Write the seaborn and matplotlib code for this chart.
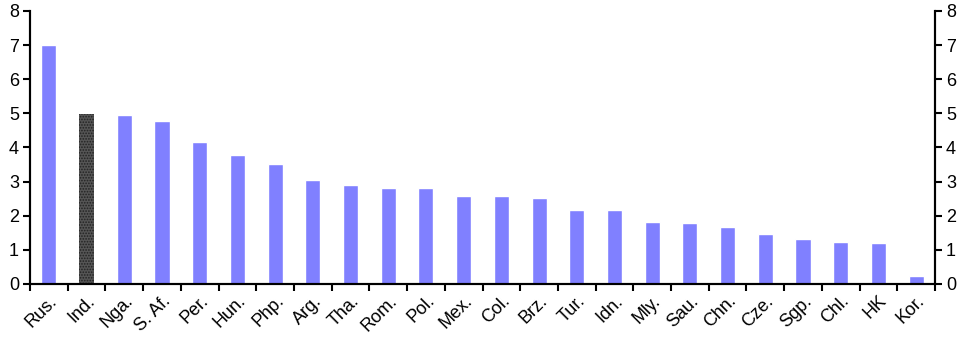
import matplotlib
matplotlib.use("Agg")
import matplotlib.pyplot as plt
import seaborn as sns
import pandas as pd

categories = ["Rus.", "Ind.", "Nga.", "S. Af.", "Per.", "Hun.", "Php.", "Arg.", "Tha.", "Rom.",
              "Pol.", "Mex.", "Col.", "Brz.", "Tur.", "Idn.", "Mly.", "Sau.", "Chn.", "Cze.",
              "Sgp.", "Chl.", "HK", "Kor."]
values = [7.0, 4.97, 4.94, 4.79, 4.15, 3.77, 3.53, 3.06, 2.89, 2.80,
          2.80, 2.57, 2.57, 2.51, 2.16, 2.16, 1.81, 1.79, 1.67, 1.46,
          1.32, 1.23, 1.20, 0.23]
highlight = ["Ind."]

sns.set_theme(style="white")
plt.rcParams['font.family'] = ['Liberation Sans', 'DejaVu Sans']
plt.rcParams['hatch.linewidth'] = 0.8

df = pd.DataFrame({"cat": categories, "val": values,
                   "grp": ["hi" if c in highlight else "lo" for c in categories]})

fig = plt.figure(figsize=(9.67, 3.42), dpi=100)
ax = fig.add_axes([30/967, 1-284/342, 905/967, 273/342])
sns.barplot(data=df, x="cat", y="val", hue="grp", palette={"hi": "#555555", "lo": "#8080ff"},
            dodge=False, width=0.4, legend=False, ax=ax, saturation=1)
hi_idx = [categories.index(c) for c in highlight]
for p in ax.patches:
    cx = p.get_x() + p.get_width() / 2
    if any(abs(cx - i) < 0.3 for i in hi_idx):
        p.set_hatch("......")
        p.set_edgecolor("#222222")
        p.set_linewidth(0)

n = len(categories)
ax.set_xlim(-0.5, n - 0.5)
ax.set_ylim(0, 8)
ax.set_yticks(range(0, 9))
ax.set_xlabel("")
ax.set_ylabel("")
ax.set_xticks([i + 0.5 for i in range(-1, n)], minor=False)
ax.set_xticklabels([])
ax.set_xticks(range(n), minor=True)
ax.set_xticklabels(categories, minor=True, rotation=45, ha="right", rotation_mode="anchor", fontsize=13)
ax.tick_params(axis="x", which="major", direction="out", length=5, width=1.5, color="black", bottom=True)
ax.tick_params(axis="x", which="minor", length=0, pad=6)
ax.tick_params(axis="y", direction="out", length=5, width=1.5, color="black", labelsize=13, left=True, pad=3)

ax2 = ax.twinx()
ax2.set_ylim(0, 8)
ax2.set_yticks(range(0, 9))
ax2.tick_params(axis="y", direction="out", length=5, width=1.5, color="black", labelsize=13, right=True, pad=3)

for a in (ax, ax2):
    a.spines["top"].set_visible(False)
    for s in ("left", "right", "bottom"):
        a.spines[s].set_color("black")
        a.spines[s].set_linewidth(1.5)
    a.grid(False)
    for t in a.get_yticklabels() + a.get_xticklabels(minor=True):
        t.set_color("black")

fig.savefig("out.png", dpi=100)
